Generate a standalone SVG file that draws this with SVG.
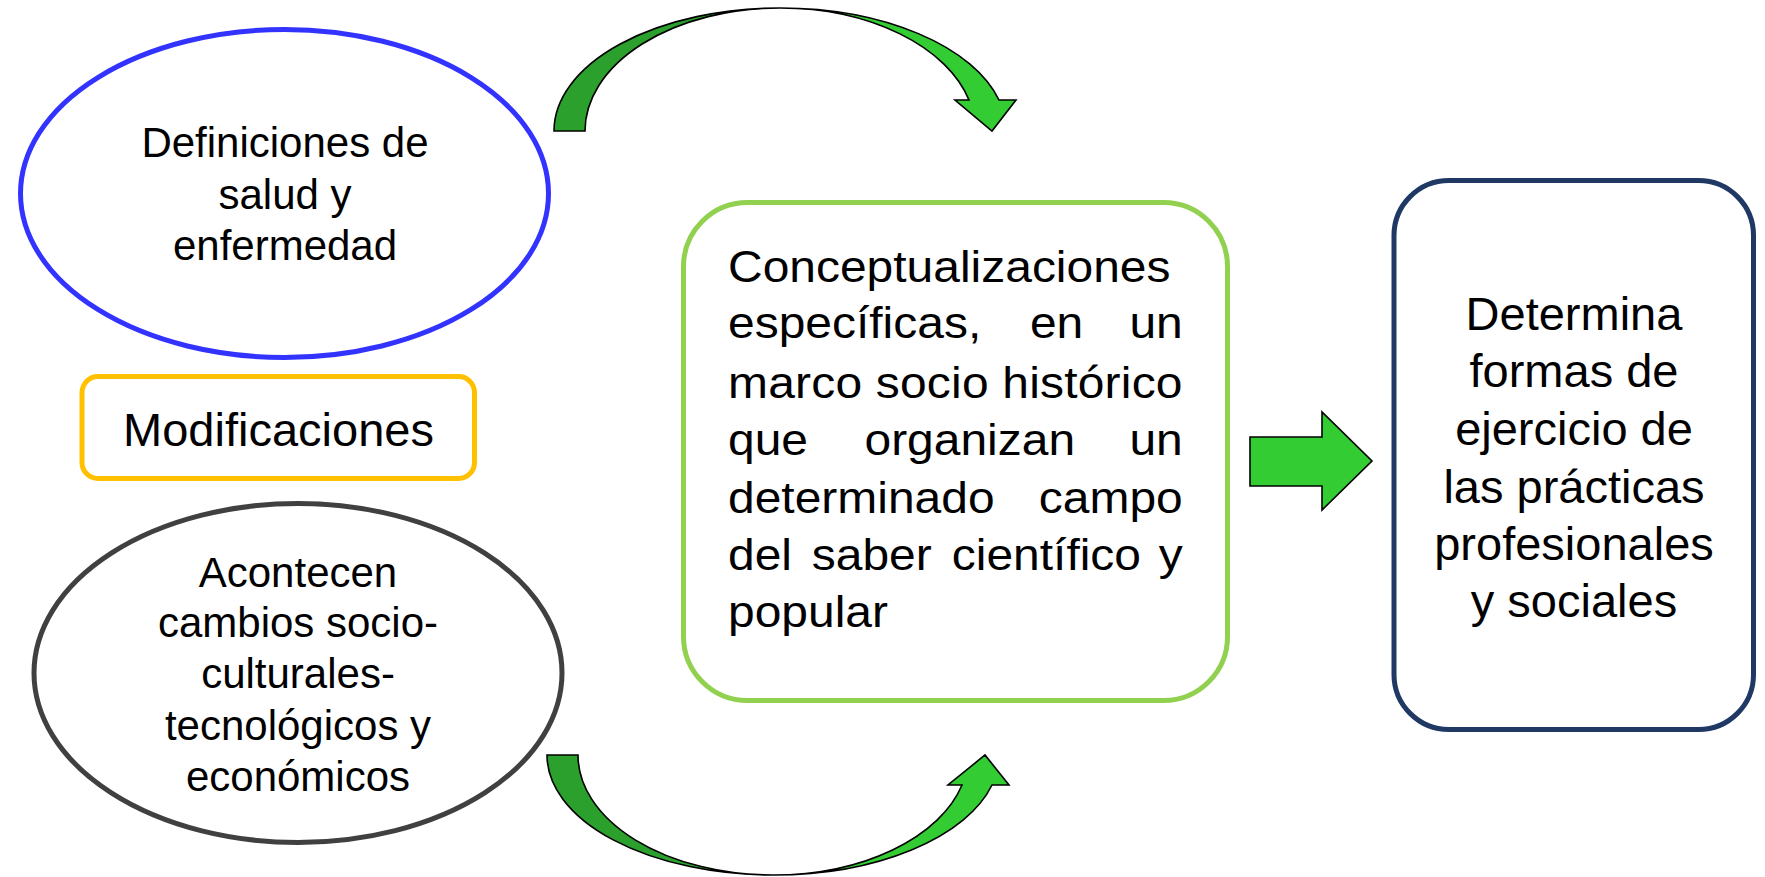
<svg xmlns="http://www.w3.org/2000/svg" width="1765" height="877" viewBox="0 0 1765 877">
<style>
  text { font-family: "Liberation Sans", Arial, sans-serif; fill: #000; }
  .c { text-anchor: middle; }
  .e { text-anchor: end; }
  .arr { stroke: #000; stroke-width: 1.6; stroke-linejoin: miter; }
  .dark { fill: #2ca02c; }
  .light { fill: #33cc33; }
</style>
<rect width="1765" height="877" fill="#fff"/>

<g id="node-definiciones">
  <ellipse cx="284.5" cy="193.5" rx="264" ry="164" fill="#fff" stroke="#3333ff" stroke-width="5"/>
  <g font-size="42">
    <text class="c" x="285" y="157">Definiciones de</text>
    <text class="c" x="285" y="209">salud y</text>
    <text class="c" x="285" y="260">enfermedad</text>
  </g>
</g>

<g id="node-modificaciones">
  <rect x="82" y="376.5" width="392.5" height="102" rx="16" fill="#fff" stroke="#ffc000" stroke-width="5"/>
  <text class="c" x="278.5" y="446" font-size="47">Modificaciones</text>
</g>

<g id="node-acontecen">
  <ellipse cx="298" cy="673" rx="264" ry="169.5" fill="#fff" stroke="#404040" stroke-width="5"/>
  <g font-size="42">
    <text class="c" x="298" y="587">Acontecen</text>
    <text class="c" x="298" y="637">cambios socio-</text>
    <text class="c" x="298" y="688">culturales-</text>
    <text class="c" x="298" y="740">tecnológicos y</text>
    <text class="c" x="298" y="791">económicos</text>
  </g>
</g>

<g id="node-conceptualizaciones">
  <rect x="683.5" y="202.5" width="544" height="498" rx="64" fill="#fff" stroke="#92d050" stroke-width="5"/>
  <g transform="translate(728,0) scale(1.09,1)" font-size="44">
    <text x="0" y="282">Conceptualizaciones</text>
    <text x="0" y="338">específicas,</text>
    <text x="277" y="338">en</text>
    <text class="e" x="417.2" y="338">un</text>
    <text x="0" y="398" textLength="417" lengthAdjust="spacing">marco socio histórico</text>
    <text x="0" y="455">que</text>
    <text x="125.2" y="455">organizan</text>
    <text class="e" x="417.2" y="455">un</text>
    <text x="0" y="513">determinado</text>
    <text class="e" x="417.2" y="513">campo</text>
    <text x="0" y="570">del</text>
    <text x="76.9" y="570">saber</text>
    <text x="205.3" y="570">científico</text>
    <text class="e" x="417.2" y="570">y</text>
    <text x="0" y="627">popular</text>
  </g>
</g>

<g id="node-determina">
  <rect x="1394" y="180.5" width="359.5" height="549" rx="55" fill="#fff" stroke="#1f3864" stroke-width="5"/>
  <g font-size="47">
    <text class="c" x="1574" y="330">Determina</text>
    <text class="c" x="1574" y="387">formas de</text>
    <text class="c" x="1574" y="444.5">ejercicio de</text>
    <text class="c" x="1574" y="502.5">las prácticas</text>
    <text class="c" x="1574" y="560">profesionales</text>
    <text class="c" x="1574" y="616.5">y sociales</text>
  </g>
</g>

<g id="connectors">
  <g id="arrow-top">
    <path class="arr dark" d="M554,131 A226,123 0 0 1 780,8 A195,123 0 0 0 585,131 Z"/>
    <path class="arr light" d="M780,8 A226,123 0 0 1 999,100 L1016,100 L992,131 L955,100 L969,100 A195,123 0 0 0 780,8 Z"/>
  </g>
  <g id="arrow-bottom">
    <path class="arr dark" d="M547,755 A226,120 0 0 0 773,875 A195,120 0 0 1 578,755 Z"/>
    <path class="arr light" d="M773,875 A226,120 0 0 0 992,785 L1009,785 L985,755 L948,785 L962,785 A195,120 0 0 1 773,875 Z"/>
  </g>
  <polygon id="arrow-right" class="arr light" points="1250,437 1322,437 1322,412 1372,461 1322,510 1322,486 1250,486"/>
</g>
</svg>
